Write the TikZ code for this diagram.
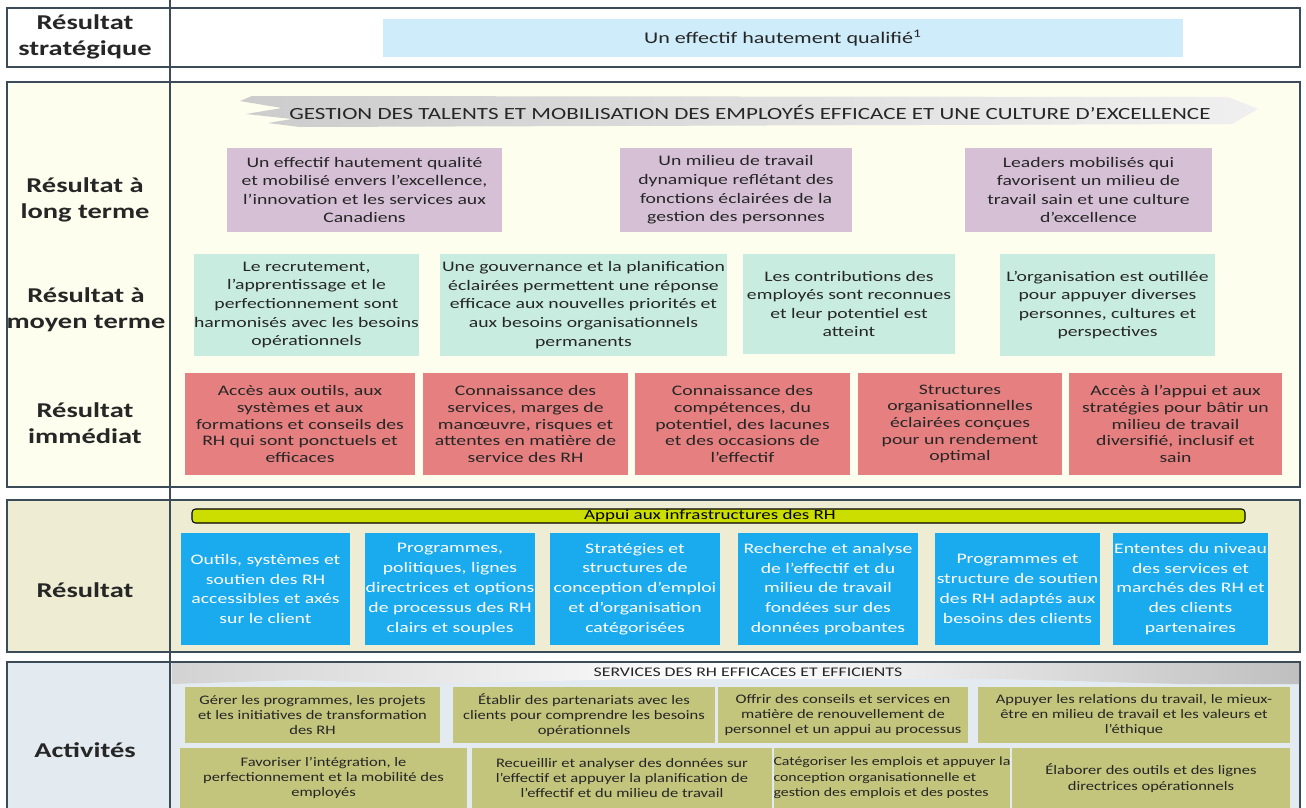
\documentclass[tikz,border=0pt]{standalone}
\usepackage{fontspec}
\setmainfont{Carlito}[FakeStretch=1.35]
\newfontfamily\actfont{Carlito}[FakeStretch=1.27]
\definecolor{frameline}{RGB}{60,75,88}
\definecolor{skyfill}{RGB}{206,236,250}
\definecolor{creamfill}{RGB}{254,254,238}
\definecolor{mauvefill}{RGB}{214,192,214}
\definecolor{mintfill}{RGB}{200,236,224}
\definecolor{salmonfill}{RGB}{230,128,128}
\definecolor{sandfill}{RGB}{238,237,212}
\definecolor{limefill}{RGB}{204,222,0}
\definecolor{azurefill}{RGB}{26,170,238}
\definecolor{mistfill}{RGB}{227,234,240}
\definecolor{olivefill}{RGB}{195,197,125}
\definecolor{inktext}{RGB}{38,38,38}
\begin{document}
\begin{tikzpicture}[x=0.02cm,y=-0.02cm,
	frame/.style={draw=frameline,line width=0.8pt},
	cellbox/.style={inner sep=0pt,align=center,text=inktext},
	rowlabel/.style={cellbox,font=\fontsize{12}{15}\selectfont\bfseries},
	longbox/.style={cellbox,fill=mauvefill,minimum height=1.68cm,font=\fontsize{8.3}{10.6}\selectfont},
	midbox/.style={cellbox,fill=mintfill,minimum height=2.04cm,font=\fontsize{8.3}{10.6}\selectfont},
	nowbox/.style={cellbox,fill=salmonfill,minimum height=2.04cm,font=\fontsize{8.3}{9.5}\selectfont},
	outbox/.style={cellbox,fill=azurefill,text=white,minimum height=2.24cm,font=\fontsize{8.3}{11.3}\selectfont},
	actbox/.style={cellbox,fill=olivefill,font=\actfont\fontsize{7.4}{8.7}\selectfont}]
\useasboundingbox (0,0) rectangle (1306,808);
\clip (0,0) rectangle (1306,808);
% cadres
\draw[frame,fill=white] (7,8) rectangle (1300,67);
\draw[frame,fill=creamfill] (7,82) rectangle (1300,487);
\draw[frame,fill=sandfill] (7,500) rectangle (1300,652);
\draw[frame,fill=mistfill] (7,662) rectangle (1300,830);
\draw[frameline,line width=0.8pt] (170,0) -- (170,808);

% resultat strategique
\node[rowlabel] (lblstrat) at (85,37) {Résultat\\stratégique};
\node[cellbox,fill=skyfill,minimum width=16cm,minimum height=0.76cm,font=\fontsize{9.3}{11}\selectfont] (strat) at (783,38) {Un effectif hautement qualifié\textsuperscript{1}};

% bandeau
\shade[left color=gray!40,right color=gray!12] (252,96) -- (1228,97) -- (1258,109) -- (1232,124) -- (300,127) -- (268,123) -- (292,119) -- (246,114) -- (282,108) -- (240,101) -- cycle;
\node[cellbox,font=\fontsize{9.7}{11}\selectfont] (talents) at (750,112) {GESTION DES TALENTS ET MOBILISATION DES EMPLOYÉS EFFICACE ET UNE CULTURE D’EXCELLENCE};

% long terme
\node[rowlabel] (lbllong) at (85,200) {Résultat à\\long terme};
\node[longbox,minimum width=5.5cm] (long1) at (364.5,190) {Un effectif hautement qualité\\et mobilisé envers l’excellence,\\l’innovation et les services aux\\Canadiens};
\node[longbox,minimum width=4.64cm] (long2) at (736,190) {Un milieu de travail\\dynamique reflétant des\\fonctions éclairées de la\\gestion des personnes};
\node[longbox,minimum width=4.94cm] (long3) at (1088.5,190) {Leaders mobilisés qui\\favorisent un milieu de\\travail sain et une culture\\d’excellence};

% moyen terme
\node[rowlabel] (lblmoyen) at (86,310) {Résultat à\\moyen terme};
\node[midbox,minimum width=4.46cm] (mid1) at (306.5,305) {Le recrutement,\\l’apprentissage et le\\perfectionnement sont\\harmonisés avec les besoins\\opérationnels};
\node[midbox,minimum width=5.74cm] (mid2) at (583.5,305) {Une gouvernance et la planification\\éclairées permettent une réponse\\efficace aux nouvelles priorités et\\aux besoins organisationnels\\permanents};
\node[midbox,minimum width=4.24cm,minimum height=2cm] (mid3) at (849,304) {Les contributions des\\employés sont reconnues\\et leur potentiel est\\atteint};
\node[midbox,minimum width=4.3cm] (mid4) at (1107.5,305) {L’organisation est outillée\\pour appuyer diverses\\personnes, cultures et\\perspectives};

% immediat
\node[rowlabel] (lblnow) at (85,423) {Résultat\\immédiat};
\node[nowbox,minimum width=4.6cm] (now1) at (300,424) {Accès aux outils, aux\\systèmes et aux\\formations et conseils des\\RH qui sont ponctuels et\\efficaces};
\node[nowbox,minimum width=4.1cm] (now2) at (525.5,424) {Connaissance des\\services, marges de\\manœuvre, risques et\\attentes en matière de\\service des RH};
\node[nowbox,minimum width=4.3cm] (now3) at (742.5,424) {Connaissance des\\compétences, du\\potentiel, des lacunes\\et des occasions de\\l’effectif};
\node[nowbox,minimum width=4.08cm] (now4) at (960,424) {Structures\\organisationnelles\\éclairées conçues\\pour un rendement\\optimal};
\node[nowbox,minimum width=4.26cm] (now5) at (1175.5,424) {Accès à l’appui et aux\\stratégies pour bâtir un\\milieu de travail\\diversifié, inclusif et\\sain};

% resultat
\draw[black,fill=limefill,rounded corners=2pt,line width=0.6pt] (192,509) rectangle (1245,523);
\node[cellbox,text=black,font=\fontsize{8}{9}\selectfont] (appui) at (710,516) {Appui aux infrastructures des RH};
\node[rowlabel] (lblout) at (85,590) {Résultat};
\node[outbox,minimum width=3.38cm] (out1) at (265.5,589) {Outils, systèmes et\\soutien des RH\\accessibles et axés\\sur le client};
\node[outbox,minimum width=3.4cm] (out2) at (450,589) {Programmes,\\politiques, lignes\\directrices et options\\de processus des RH\\clairs et souples};
\node[outbox,minimum width=3.4cm] (out3) at (635,589) {Stratégies et\\structures de\\conception d’emploi\\et d’organisation\\catégorisées};
\node[outbox,minimum width=3.6cm] (out4) at (828,589) {Recherche et analyse\\de l’effectif et du\\milieu de travail\\fondées sur des\\données probantes};
\node[outbox,minimum width=3.3cm] (out5) at (1017.5,589) {Programmes et\\structure de soutien\\des RH adaptés aux\\besoins des clients};
\node[outbox,minimum width=3.1cm] (out6) at (1190.5,589) {Ententes du niveau\\des services et\\marchés des RH et\\des clients\\partenaires};

% activites
\shade[left color=gray!35,right color=gray!50,middle color=white] (172,663) -- (1299,663) -- (1299,684) -- (1180,684) -- (1000,679) -- (640,679) -- (420,684) -- (300,680) -- (172,684) -- cycle;
\node[cellbox,font=\fontsize{7.5}{9}\selectfont] (services) at (748,672) {SERVICES DES RH EFFICACES ET EFFICIENTS};
\node[rowlabel] (lblact) at (85,750) {Activités};
\node[actbox,minimum width=5.1cm,minimum height=1.12cm] (act1) at (312.5,715) {Gérer les programmes, les projets\\et les initiatives de transformation\\des RH};
\node[actbox,minimum width=5.24cm,minimum height=1.12cm] (act2) at (584,715) {Établir des partenariats avec les\\clients pour comprendre les besoins\\opérationnels};
\node[actbox,minimum width=5cm,minimum height=1.12cm] (act3) at (843,715) {Offrir des conseils et services en\\matière de renouvellement de\\personnel et un appui au processus};
\node[actbox,minimum width=6.24cm,minimum height=1.12cm] (act4) at (1134,715) {Appuyer les relations du travail, le mieux-\\être en milieu de travail et les valeurs et\\l’éthique};
\node[actbox,minimum width=5.74cm,minimum height=1.2cm] (act5) at (323.5,778) {Favoriser l’intégration, le\\perfectionnement et la mobilité des\\employés};
\node[actbox,minimum width=6cm,minimum height=1.2cm] (act6) at (622,778) {Recueillir et analyser des données sur\\l’effectif et appuyer la planification de\\l’effectif et du milieu de travail};
\node[actbox,align=left,minimum width=4.6cm,minimum height=1.2cm,font=\actfont\fontsize{7.1}{8.7}\selectfont] (act7) at (892,778) {Catégoriser les emplois et appuyer la\\conception organisationnelle et\\gestion des emplois et des postes};
\node[actbox,minimum width=5.56cm,minimum height=1.2cm] (act8) at (1151,778) {Élaborer des outils et des lignes\\directrices opérationnels};
\end{tikzpicture}
\end{document}
